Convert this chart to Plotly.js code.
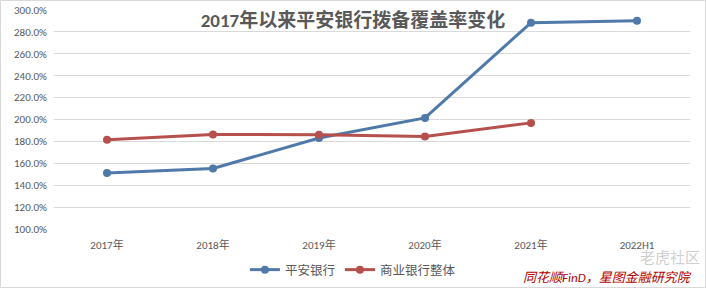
<!DOCTYPE html>
<html><head><meta charset="utf-8">
<script src="https://cdn.plot.ly/plotly-3.0.1.min.js"></script>
<style>html,body{margin:0;padding:0;background:#fff;}#chart{width:706px;height:289px;}</style>
</head><body><div id="chart"></div>
<script>
const years = ['2017年','2018年','2019年','2020年','2021年','2022H1'];
const pinganName = '平安银行';
const pingan = [151.08, 155.24, 183.12, 201.40, 288.42, 290.27];
const industryName = '商业银行整体';
const industry = [181.42, 186.31, 186.08, 184.47, 196.91, null];
const titleText = '2017年以来平安银行拨备覆盖率变化';
const sourceText = '同花顺FinD，星图金融研究院';
const watermark = '老虎社区';

const W = 706, H = 289, ml = 54, mr = 16, mt = 10, mb = 60;
const pw = W - ml - mr, ph = H - mt - mb;
const px = v => (v - ml) / pw;
const py = v => (H - mb - v) / ph;
const font = 'Calibri, Carlito, "Noto Sans CJK SC", "Liberation Sans", sans-serif';

const traces = [
  {x: years, y: pingan, name: pinganName, type: 'scatter', mode: 'lines+markers',
   line: {color: '#4F79A8', width: 3}, marker: {color: '#4F79A8', size: 8}},
  {x: years, y: industry, name: industryName, type: 'scatter', mode: 'lines+markers',
   line: {color: '#B5504D', width: 3}, marker: {color: '#B5504D', size: 8}}
];

const layout = {
  width: W, height: H,
  margin: {l: ml, r: mr, t: mt, b: mb, autoexpand: false},
  paper_bgcolor: '#fff', plot_bgcolor: '#fff',
  font: {family: font, color: '#595959', size: 11},
  showlegend: true,
  legend: {orientation: 'h', x: 0.47, xanchor: 'center', y: py(270), yanchor: 'middle',
           font: {size: 12.5, color: '#595959', family: font}, tracegroupgap: 0},
  title: {text: '<b>' + titleText + '</b>', x: 0.5, xanchor: 'center', xref: 'container',
          y: 1 - 20 / H, yanchor: 'middle', font: {size: 19, color: '#595959', family: font}},
  xaxis: {type: 'category', showgrid: false, zeroline: false, showline: false,
          ticks: '', tickfont: {size: 11, color: '#595959'}, range: [-0.5, 5.5],
          ticklabelstandoff: 8},
  yaxis: {range: [100, 300], dtick: 20, tick0: 100, tickformat: '.1f', ticksuffix: '%',
          showgrid: true, gridcolor: '#D9D9D9', gridwidth: 1, zeroline: false, showline: false,
          ticks: '', tickfont: {size: 11, color: '#595959'}, ticklabelstandoff: 6},
  shapes: [
    {type: 'rect', xref: 'paper', yref: 'paper', x0: px(0.5), x1: px(W - 0.5), y0: py(0.5), y1: py(H - 1.5),
     line: {color: '#D9D9D9', width: 1}, fillcolor: 'rgba(0,0,0,0)', layer: 'below'}
  ],
  annotations: [
    {text: '<i>' + sourceText + '</i>', xref: 'paper', yref: 'paper', x: px(694), y: py(277),
     xanchor: 'right', yanchor: 'middle', showarrow: false,
     font: {size: 13, color: '#B00000', family: font}},
    {text: watermark, xref: 'paper', yref: 'paper', x: px(702), y: py(258),
     xanchor: 'right', yanchor: 'middle', showarrow: false,
     font: {size: 15, color: 'rgba(190,190,190,0.75)', family: font}}
  ]
};

Plotly.newPlot('chart', traces, layout, {displayModeBar: false, staticPlot: true});
</script></body></html>
